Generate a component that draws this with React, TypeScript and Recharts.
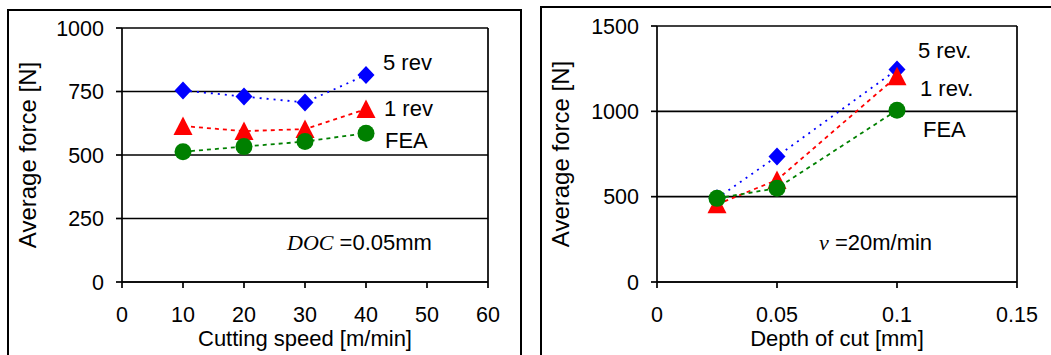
import React from "react";
import {
  LineChart,
  Line,
  XAxis,
  YAxis,
  CartesianGrid,
  ReferenceLine,
  Label,
} from "recharts";

// left panel: force vs cutting speed (DOC = 0.05mm)
const speeds = [10, 20, 30, 40];
const speedFiveRev = [754, 730, 707, 815];
const speedOneRev = [614, 594, 602, 681];
const speedFea = [513, 533, 553, 586];
const speedTicks = [0, 10, 20, 30, 40, 50, 60];
const speedForceTicks = [0, 250, 500, 750, 1000];

// right panel: force vs depth of cut (v = 20m/min)
const depths = [0.025, 0.05, 0.1];
const depthFiveRev = [490, 736, 1245];
const depthOneRev = [455, 598, 1205];
const depthFea = [490, 550, 1007];
const depthTicks = [0, 0.05, 0.1, 0.15];
const depthForceTicks = [0, 500, 1000, 1500];

const FONT = "'Liberation Sans', Arial, sans-serif";
const SERIF = "'Liberation Serif', 'Times New Roman', serif";
const BLUE = "#0000ff";
const RED = "#ff0000";
const GREEN = "#008000";

const speedData = speeds.map((x, i) => ({
  x,
  five: speedFiveRev[i],
  one: speedOneRev[i],
  fea: speedFea[i],
}));

const depthData = depths.map((x, i) => ({
  x,
  five: depthFiveRev[i],
  one: depthOneRev[i],
  fea: depthFea[i],
}));

function diamond(p: any) {
  const { cx, cy, index } = p;
  if (cx == null || cy == null) return <g key={`d${index}`} />;
  return (
    <path
      key={`d${index}`}
      d={`M${cx},${cy - 9} L${cx + 8.5},${cy} L${cx},${cy + 9} L${cx - 8.5},${cy} Z`}
      fill={BLUE}
    />
  );
}

function triangle(p: any) {
  const { cx, cy, index } = p;
  if (cx == null || cy == null) return <g key={`t${index}`} />;
  return (
    <path
      key={`t${index}`}
      d={`M${cx},${cy - 9.5} L${cx + 9.5},${cy + 9} L${cx - 9.5},${cy + 9} Z`}
      fill={RED}
    />
  );
}

function circle(p: any) {
  const { cx, cy, index } = p;
  if (cx == null || cy == null) return <g key={`c${index}`} />;
  return <circle key={`c${index}`} cx={cx} cy={cy} r={8.5} fill={GREEN} />;
}

const tick = { fill: "#000", fontSize: 21.5, fontFamily: FONT };
const axisLine = { stroke: "#000", strokeWidth: 1.7 };
const tickLine = { stroke: "#000", strokeWidth: 1.7 };
const titleStyle = { fill: "#000", fontSize: 22, fontFamily: FONT };
const yTitleStyle = { fill: "#000", fontSize: 24, fontFamily: FONT, textAnchor: "middle" as const };
const noteStyle = { fill: "#000", fontSize: 22, fontFamily: FONT } as const;

function series() {
  return [
    <Line
      key="five"
      type="linear"
      dataKey="five"
      stroke={BLUE}
      strokeWidth={1.8}
      strokeDasharray="2 5"
      dot={diamond}
      activeDot={false}
      isAnimationActive={false}
    />,
    <Line
      key="one"
      type="linear"
      dataKey="one"
      stroke={RED}
      strokeWidth={1.8}
      strokeDasharray="4 4"
      dot={triangle}
      activeDot={false}
      isAnimationActive={false}
    />,
    <Line
      key="fea"
      type="linear"
      dataKey="fea"
      stroke={GREEN}
      strokeWidth={1.8}
      strokeDasharray="4 4"
      dot={circle}
      activeDot={false}
      isAnimationActive={false}
    />,
  ];
}

function SpeedChart() {
  return (
    <LineChart
      width={521}
      height={355}
      data={speedData}
      margin={{ top: 28, right: 33, bottom: 0, left: 0 }}
    >
      <CartesianGrid vertical={false} stroke="#000" strokeWidth={1.7} />
      <XAxis
        dataKey="x"
        type="number"
        domain={[0, 60]}
        ticks={speedTicks}
        height={73}
        tick={tick}
        tickSize={6}
        tickMargin={19}
        axisLine={axisLine}
        tickLine={tickLine}
      >
        <Label value="Cutting speed [m/min]" position="insideBottom" offset={9} style={titleStyle} />
      </XAxis>
      <YAxis
        type="number"
        domain={[0, 1000]}
        ticks={speedForceTicks}
        width={122}
        tick={tick}
        tickSize={6}
        tickMargin={12}
        axisLine={axisLine}
        tickLine={tickLine}
      >
        <Label
          value="Average force [N]"
          angle={-90}
          position="insideLeft"
          offset={30}
          dx={-3}
          style={yTitleStyle}
        />
      </YAxis>
      <ReferenceLine x={60} stroke="#000" strokeWidth={1.7} />
      {series()}
      <text x={383} y={70} style={noteStyle}>5 rev</text>
      <text x={384} y={116} style={noteStyle}>1 rev</text>
      <text x={385} y={148} style={noteStyle}>FEA</text>
      <text x={287} y={250} style={noteStyle}>
        <tspan fontFamily={SERIF} fontStyle="italic">DOC</tspan>
        <tspan> =0.05mm</tspan>
      </text>
    </LineChart>
  );
}

function DepthChart() {
  return (
    <LineChart
      width={521}
      height={355}
      data={depthData}
      margin={{ top: 26, right: 34, bottom: 0, left: 0 }}
    >
      <CartesianGrid vertical={false} stroke="#000" strokeWidth={1.7} />
      <XAxis
        dataKey="x"
        type="number"
        domain={[0, 0.15]}
        ticks={depthTicks}
        height={73}
        tick={tick}
        tickSize={6}
        tickMargin={19}
        axisLine={axisLine}
        tickLine={tickLine}
      >
        <Label value="Depth of cut [mm]" position="insideBottom" offset={9} style={titleStyle} />
      </XAxis>
      <YAxis
        type="number"
        domain={[0, 1500]}
        ticks={depthForceTicks}
        width={127}
        tick={tick}
        tickSize={6}
        tickMargin={12}
        axisLine={axisLine}
        tickLine={tickLine}
      >
        <Label
          value="Average force [N]"
          angle={-90}
          position="insideLeft"
          offset={33}
          dx={-3}
          style={yTitleStyle}
        />
      </YAxis>
      <ReferenceLine x={0.15} stroke="#000" strokeWidth={1.7} />
      {series()}
      <text x={388} y={58} style={noteStyle}>5 rev.</text>
      <text x={390} y={96} style={noteStyle}>1 rev.</text>
      <text x={393} y={137} style={noteStyle}>FEA</text>
      <text x={289} y={250} style={noteStyle}>
        <tspan fontFamily={SERIF} fontStyle="italic">v</tspan>
        <tspan> =20m/min</tspan>
      </text>
    </LineChart>
  );
}

export default function App() {
  return (
    <div
      style={{
        position: "absolute",
        left: 0,
        top: 0,
        width: 1051,
        height: 355,
        overflow: "hidden",
        background: "#fff",
        fontFamily: FONT,
      }}
    >
      <div
        style={{
          position: "absolute",
          left: 7,
          top: 9,
          width: 515,
          height: 400,
          border: "2px solid #000",
          boxSizing: "border-box",
        }}
      />
      <div
        style={{
          position: "absolute",
          left: 540,
          top: 6,
          width: 600,
          height: 400,
          border: "2px solid #000",
          boxSizing: "border-box",
        }}
      />
      <div style={{ position: "absolute", left: 0, top: 0 }}>
        <SpeedChart />
      </div>
      <div style={{ position: "absolute", left: 530, top: 0 }}>
        <DepthChart />
      </div>
    </div>
  );
}
